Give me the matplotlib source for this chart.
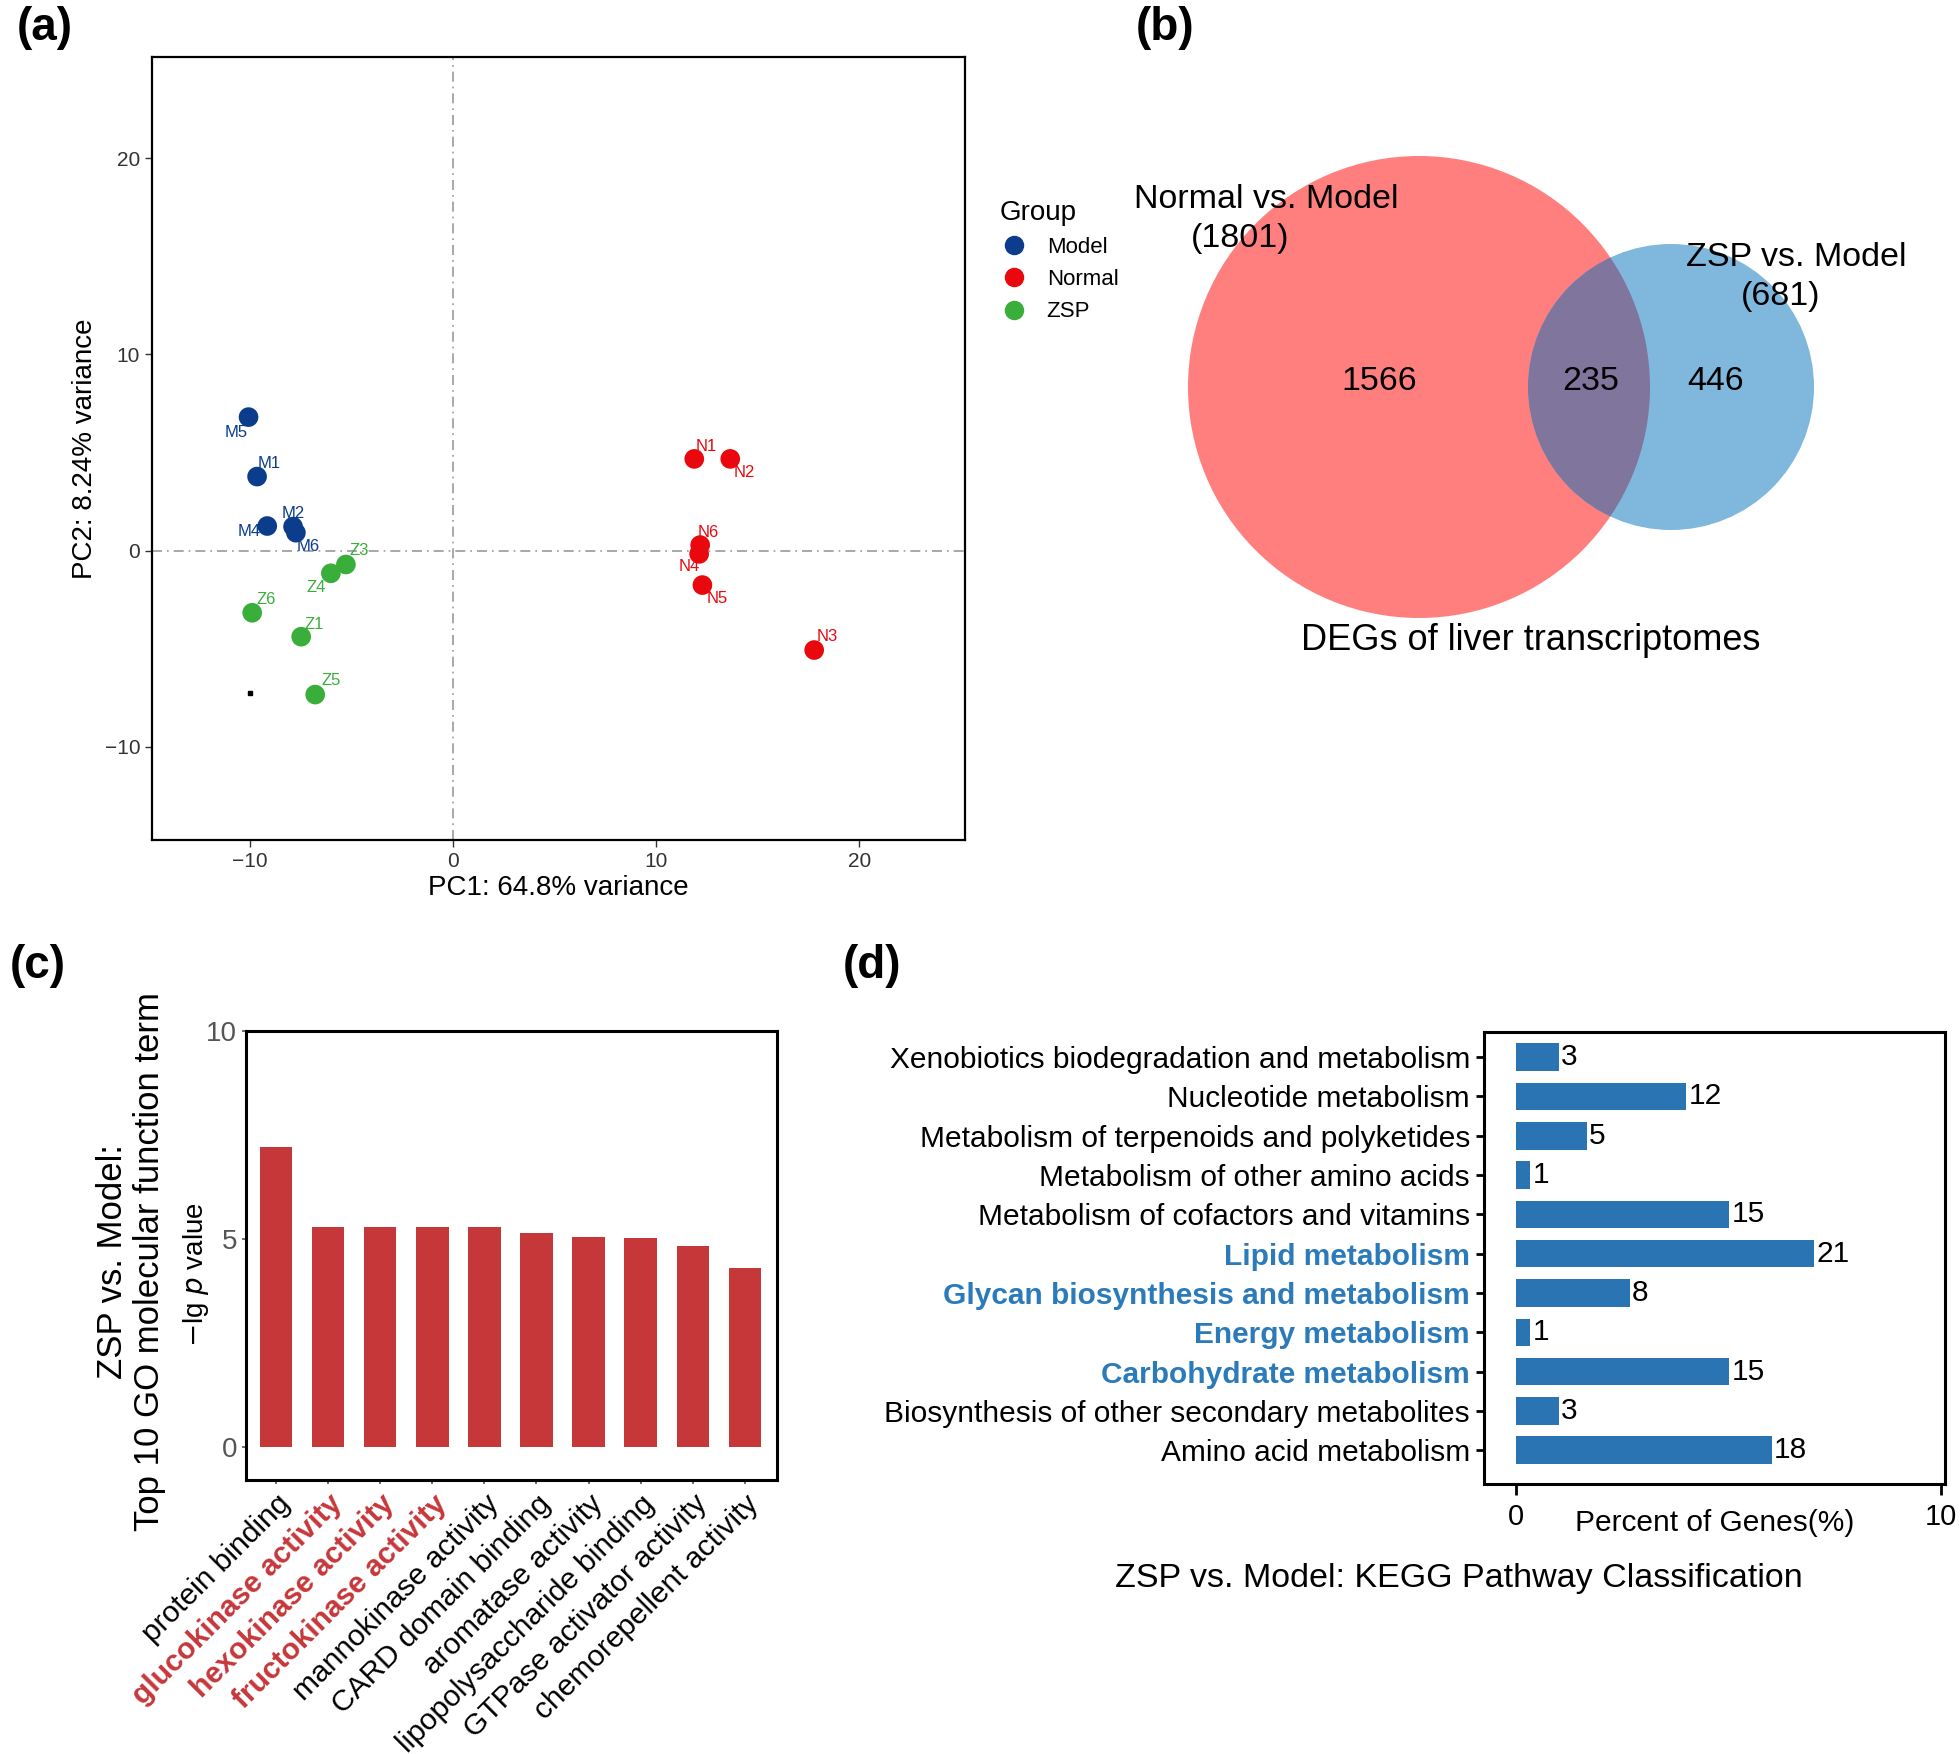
import matplotlib

matplotlib.use("Agg")
import matplotlib.pyplot as plt
from matplotlib.lines import Line2D
from matplotlib.patches import Circle

plt.rcParams["font.family"] = ["Liberation Sans", "DejaVu Sans"]

W, H = 1960, 1754

# ---- panel (a): PCA ----
pca_names = ["M1", "M2", "M4", "M5", "M6",
             "N1", "N2", "N3", "N4", "N5", "N6",
             "Z1", "Z3", "Z4", "Z5", "Z6"]
pca_groups = ["Model"] * 5 + ["Normal"] * 6 + ["ZSP"] * 5
pc1 = [-9.63, -7.86, -9.13, -10.05, -7.72,
       11.88, 13.65, 17.78, 12.12, 12.28, 12.17,
       -7.46, -5.26, -6.0, -6.77, -9.87]
pc2 = [3.77, 1.22, 1.25, 6.8, 0.91,
       4.67, 4.67, -5.07, -0.17, -1.76, 0.28,
       -4.39, -0.71, -1.16, -7.34, -3.17]
# label nudges (data units), same order as pca_names
lab_dx = [0.6, 0.0, -0.9, -0.63, 0.6, 0.58, 0.71, 0.66, -0.5, 0.71, 0.42,
          0.66, 0.66, -0.71, 0.77, 0.71]
lab_dy = [0.68, 0.65, -0.28, -0.76, -0.68, 0.62, -0.7, 0.68, -0.62, -0.7, 0.62,
          0.6, 0.7, -0.7, 0.7, 0.65]
group_order = ["Model", "Normal", "ZSP"]
group_colors = {"Model": "#0B3D8C", "Normal": "#E8080E", "ZSP": "#3AAE3A"}

# ---- panel (b): Venn ----
venn_only_a, venn_both, venn_only_b = 1566, 235, 446
venn_total_a, venn_total_b = 1801, 681

# ---- panel (c): GO terms ----
go_terms = ["protein binding", "glucokinase activity", "hexokinase activity",
            "fructokinase activity", "mannokinase activity", "CARD domain binding",
            "aromatase activity", "lipopolysaccharide binding",
            "GTPase activator activity", "chemorepellent activity"]
go_neglogp = [7.21, 5.29, 5.29, 5.29, 5.29, 5.13, 5.04, 5.02, 4.84, 4.30]
go_highlight = ["glucokinase activity", "hexokinase activity", "fructokinase activity"]

# ---- panel (d): KEGG ----
kegg_terms = ["Amino acid metabolism", "Biosynthesis of other secondary metabolites",
              "Carbohydrate metabolism", "Energy metabolism",
              "Glycan biosynthesis and metabolism", "Lipid metabolism",
              "Metabolism of cofactors and vitamins", "Metabolism of other amino acids",
              "Metabolism of terpenoids and polyketides", "Nucleotide metabolism",
              "Xenobiotics biodegradation and metabolism"]
kegg_counts = [18, 3, 15, 1, 8, 21, 15, 1, 5, 12, 3]
kegg_percent = [6.02, 1.0, 5.02, 0.33, 2.68, 7.02, 5.02, 0.33, 1.67, 4.01, 1.0]
kegg_highlight = ["Carbohydrate metabolism", "Energy metabolism",
                  "Glycan biosynthesis and metabolism", "Lipid metabolism"]


def box(left, top, right, bottom):
    return [left / W, 1 - bottom / H, (right - left) / W, (bottom - top) / H]


fig = plt.figure(figsize=(W / 100, H / 100), dpi=100)

# ================= (a) =================
ax = fig.add_axes(box(152, 57, 965, 840))
ax.axhline(0, color="#9A9A9A", lw=1.2, ls=(0, (6, 3, 1, 3)), zorder=1)
ax.axvline(0, color="#9A9A9A", lw=1.2, ls=(0, (6, 3, 1, 3)), zorder=1)
for name, g, x, y, dx, dy in zip(pca_names, pca_groups, pc1, pc2, lab_dx, lab_dy):
    ax.scatter(x, y, s=200, color=group_colors[g], edgecolors="none", zorder=3)
    ax.text(x + dx, y + dy, name, color=group_colors[g], fontsize=12,
            ha="center", va="center", zorder=4)
ax.plot([-9.97], [-7.28], marker="s", ms=3, color="black", zorder=3)
ax.set_xlim(-14.8, 25.2)
ax.set_ylim(-14.75, 25.15)
ax.set_xticks([-10, 0, 10, 20])
ax.set_yticks([-10, 0, 10, 20])
ax.set_xticklabels(["\u221210", "0", "10", "20"])
ax.set_yticklabels(["\u221210", "0", "10", "20"])
ax.tick_params(labelsize=15, length=5, width=1, color="#333333", labelcolor="#333333")
for s in ax.spines.values():
    s.set_linewidth(1.6)
ax.set_xlabel("PC1: 64.8% variance", fontsize=20, labelpad=3)
ax.set_ylabel("PC2: 8.24% variance", fontsize=20, labelpad=5)

handles = [Line2D([], [], ls="none", marker="o", ms=13, color=group_colors[g]) for g in group_order]
leg = fig.legend(handles, group_order, title="Group", loc="upper left",
                 bbox_to_anchor=(980 / W, 1 - 180 / H), frameon=False,
                 fontsize=16, title_fontsize=20, handlelength=1.3, handletextpad=0.8,
                 labelspacing=0.5, alignment="left")

# ================= (b) =================
axv = fig.add_axes([0.55, 0, 0.45, 1])
axv.set_xlim(0.55 * W, W)
axv.set_ylim(H, 0)
axv.set_axis_off()
red_c = Circle((1419, 387), 231, facecolor="#FF7F7F", edgecolor="none")
blue_c = Circle((1671, 387), 143, facecolor="#7FB7DD", edgecolor="none")
mid_c = Circle((1671, 387), 143, facecolor="#7F759D", edgecolor="none")
axv.add_patch(red_c)
axv.add_patch(blue_c)
axv.add_patch(mid_c)
mid_c.set_clip_path(red_c)
axv.text(1266, 199, "Normal vs. Model", fontsize=24.5, ha="center", va="center")
axv.text(1240, 239, f"({venn_total_a})", fontsize=24.5, ha="center", va="center")
axv.text(1796, 257, "ZSP vs. Model", fontsize=24.5, ha="center", va="center")
axv.text(1781, 297, f"({venn_total_b})", fontsize=24.5, ha="center", va="center")
axv.text(1379, 381, str(venn_only_a), fontsize=24.5, ha="center", va="center")
axv.text(1591, 381, str(venn_both), fontsize=24.5, ha="center", va="center")
axv.text(1716, 381, str(venn_only_b), fontsize=24.5, ha="center", va="center")
axv.text(1531, 640, "DEGs of liver transcriptomes", fontsize=26, ha="center", va="center")

# ================= (c) =================
axc = fig.add_axes(box(246, 1031, 777, 1480))
go_x = list(range(len(go_terms)))
axc.bar(go_x, go_neglogp, width=0.62, color="#C6373A", zorder=2)
axc.set_xlim(-0.58, 9.62)
axc.set_ylim(-0.8, 10)
axc.set_yticks([0, 5, 10])
axc.tick_params(axis="y", labelsize=20, labelcolor="#555555", length=3, width=1.2, color="#555555")
axc.set_xticks(go_x)
axc.set_xticklabels(go_terms, rotation=45, ha="right", rotation_mode="anchor", fontsize=21.5)
axc.tick_params(axis="x", length=3, width=1.2, color="#555555", pad=4)
for lbl in axc.get_xticklabels():
    if lbl.get_text() in go_highlight:
        lbl.set_color("#C6373A")
        lbl.set_fontweight("bold")
for s in axc.spines.values():
    s.set_linewidth(2.2)
fig.text(196 / W, 1 - 1275 / H, r"$-$lg $p$ value", rotation=90, fontsize=20,
         ha="center", va="center")
fig.text(131 / W, 1 - 1262 / H, "ZSP vs. Model:\nTop 10 GO molecular function term",
         rotation=90, fontsize=25, ha="center", va="center", linespacing=1.15)

# ================= (d) =================
axd = fig.add_axes(box(1484, 1032, 1945, 1484))
kegg_y = list(range(len(kegg_terms)))
axd.barh(kegg_y, kegg_percent, height=0.7, color="#2A74B3", zorder=2)
for y, p, c in zip(kegg_y, kegg_percent, kegg_counts):
    axd.text(p + 0.05, y, str(c), fontsize=21.5, ha="left", va="center")
axd.set_xlim(-0.76, 10.1)
axd.set_ylim(-0.86, 10.64)
axd.set_yticks(kegg_y)
axd.set_yticklabels(kegg_terms, fontsize=21.5)
for lbl in axd.get_yticklabels():
    if lbl.get_text() in kegg_highlight:
        lbl.set_color("#2B7BBA")
        lbl.set_fontweight("bold")
axd.set_xticks([0, 10])
axd.tick_params(axis="x", labelsize=21, length=8, width=2, pad=6)
axd.tick_params(axis="y", length=6, width=2, pad=4)
for s in axd.spines.values():
    s.set_linewidth(2.2)
axd.set_xlabel("Percent of Genes(%)", fontsize=21.5, labelpad=-16)
fig.text(1459 / W, 1 - 1578 / H, "ZSP vs. Model: KEGG Pathway Classification",
         fontsize=24.5, ha="center", va="center")

# ---- panel letters ----
for letter, (px, py) in zip(["(a)", "(b)", "(c)", "(d)"],
                            [(45, 28), (1165, 28), (38, 966), (872, 966)]):
    fig.text(px / W, 1 - py / H, letter, fontsize=33, fontweight="bold",
             ha="center", va="center")

fig.savefig("out.png", dpi=100)
